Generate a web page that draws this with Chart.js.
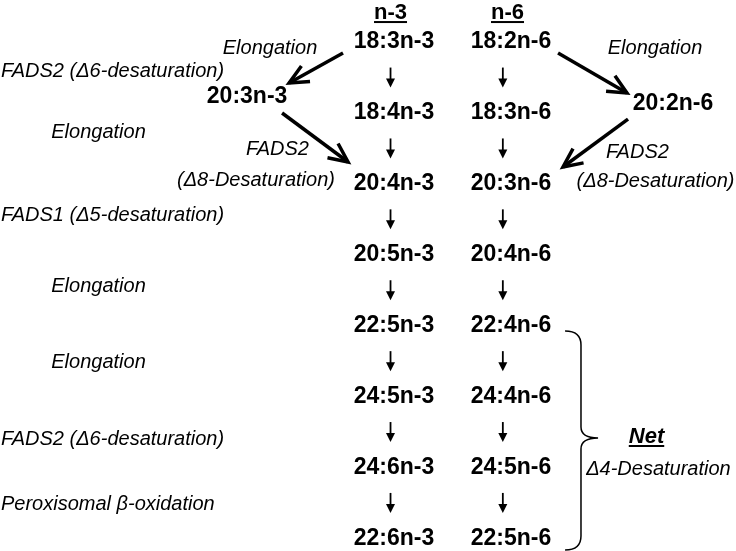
<!DOCTYPE html>
<html lang="en">
<head>
    <meta charset="UTF-8">
    <title>n-3 and n-6 PUFA pathway</title>
    <script src="https://cdn.jsdelivr.net/npm/chart.js"></script>
    <style>
        html, body { margin: 0; padding: 0; background: #ffffff; }
        #wrap { width: 736px; height: 551px; position: relative; }
    </style>
</head>
<body>
<div id="wrap"><canvas id="chart"></canvas></div>
<script>
    // series (column headers) and the fatty acids in each column, top to bottom
    const seriesNames = ['n-3', 'n-6'];
    const n3Acids = ['18:3n-3', '18:4n-3', '20:4n-3', '20:5n-3', '22:5n-3', '24:5n-3', '24:6n-3', '22:6n-3'];
    const n6Acids = ['18:2n-6', '18:3n-6', '20:3n-6', '20:4n-6', '22:4n-6', '24:4n-6', '24:5n-6', '22:5n-6'];

    // enzyme step between row i and row i+1
    const stepEnzymes = ['FADS2 (\u03946-desaturation)', 'Elongation', 'FADS1 (\u03945-desaturation)',
        'Elongation', 'Elongation', 'FADS2 (\u03946-desaturation)', 'Peroxisomal \u03b2-oxidation'];

    // alternative route (elongation then delta-8 desaturation)
    const altAcids = ['20:3n-3', '20:2n-6'];
    const altFirstStep = 'Elongation';
    const altSecondStep = ['FADS2', '(\u03948-Desaturation)'];
    const netLabel = ['Net', '\u03944-Desaturation'];

    // layout in grid units (x = column, y = row)
    const layout = {
        headerRow: -0.41,
        arrowDx: [-0.03, -0.07],
        altAt: [[-1.256, 0.77], [2.385, 0.873]],
        stepRows: [0.42, 1.275, 2.446, 3.44, 4.52, 5.61, 6.52],
        elongX: -2.526,
        altFirstAt: [[-1.06, 0.083], [2.231, 0.083]],
        altFadsAt: [[-0.996, 1.51], [2.08, 1.557]],
        altDeltaAt: [[-1.18, 1.945], [2.235, 1.966]],
        bigArrows: [
            [[-0.436, 0.154], [-0.897, 0.577]],
            [[-0.957, 1.0], [-0.393, 1.691]],
            [[1.402, 0.154], [1.991, 0.718]],
            [[2.0, 1.085], [1.444, 1.762]]
        ],
        brace: { x0: 1.462, x1: 1.598, x2: 1.744, top: 4.075, mid: 5.584, bottom: 7.164 },
        netAt: [2.158, 5.57],
        netSubAt: [2.26, 6.03]
    };

    const FONT = '"Liberation Sans", Arial, sans-serif';
    const boldFont = 'bold 23px ' + FONT;
    const headFont = 'bold 22px ' + FONT;
    const italFont = 'italic 20px ' + FONT;

    function drawText(ctx, str, x, y, font, align) {
        ctx.font = font;
        ctx.textAlign = align || 'center';
        ctx.textBaseline = 'middle';
        ctx.fillText(str, x, y);
        return ctx.measureText(str).width;
    }

    function drawBigArrow(ctx, x1, y1, x2, y2) {
        const a = Math.atan2(y2 - y1, x2 - x1);
        const len = 21, spread = 25 * Math.PI / 180;
        ctx.lineWidth = 3.5;
        ctx.lineCap = 'butt';
        ctx.lineJoin = 'miter';
        ctx.beginPath();
        ctx.moveTo(x1, y1);
        ctx.lineTo(x2, y2);
        ctx.stroke();
        ctx.beginPath();
        ctx.moveTo(x2 - len * Math.cos(a - spread), y2 - len * Math.sin(a - spread));
        ctx.lineTo(x2, y2);
        ctx.lineTo(x2 - len * Math.cos(a + spread), y2 - len * Math.sin(a + spread));
        ctx.stroke();
    }

    function drawDownArrow(ctx, x, yTop, yBot) {
        ctx.lineWidth = 1.8;
        ctx.lineCap = 'butt';
        ctx.beginPath();
        ctx.moveTo(x, yTop);
        ctx.lineTo(x, yBot - 6);
        ctx.stroke();
        ctx.beginPath();
        ctx.moveTo(x - 4.5, yBot - 9);
        ctx.lineTo(x + 4.5, yBot - 9);
        ctx.lineTo(x, yBot);
        ctx.closePath();
        ctx.fill();
    }

    const pathwayPlugin = {
        id: 'pathway',
        afterDatasetsDraw(chart) {
            const ctx = chart.ctx;
            const sx = chart.scales.x, sy = chart.scales.y;
            const X = v => sx.getPixelForValue(v);
            const Y = v => sy.getPixelForValue(v);
            ctx.save();
            ctx.fillStyle = '#000000';
            ctx.strokeStyle = '#000000';

            // column headers, underlined
            chart.data.datasets.forEach((ds, c) => {
                const pts = chart.getDatasetMeta(c).data;
                const hx = pts[0].x + sx.getPixelForValue(layout.arrowDx[0]) - sx.getPixelForValue(0);
                const hy = Y(layout.headerRow);
                const w = drawText(ctx, ds.label, hx, hy, headFont);
                ctx.fillRect(hx - w / 2, hy + 8, w, 2);
            });

            // fatty acid names and down arrows
            const columns = [n3Acids, n6Acids];
            columns.forEach((acids, c) => {
                const pts = chart.getDatasetMeta(c).data;
                acids.forEach((name, i) => {
                    drawText(ctx, name, pts[i].x, pts[i].y, boldFont);
                    if (i < acids.length - 1) {
                        const ax = X(c + layout.arrowDx[c]);
                        const ym = (pts[i].y + pts[i + 1].y) / 2;
                        drawDownArrow(ctx, ax, ym - 10, ym + 10);
                    }
                });
            });

            // enzyme steps on the left
            stepEnzymes.forEach((name, i) => {
                const y = Y(layout.stepRows[i]);
                if (name === 'Elongation') {
                    drawText(ctx, name, X(layout.elongX), y, italFont, 'center');
                } else {
                    drawText(ctx, name, chart.chartArea.left + 1, y, italFont, 'left');
                }
            });

            // alternative route
            altAcids.forEach((name, k) => {
                const p = layout.altAt[k];
                drawText(ctx, name, X(p[0]), Y(p[1]), boldFont);
                const f = layout.altFirstAt[k];
                drawText(ctx, altFirstStep, X(f[0]), Y(f[1]), italFont);
                const g = layout.altFadsAt[k];
                drawText(ctx, altSecondStep[0], X(g[0]), Y(g[1]), italFont);
                const d = layout.altDeltaAt[k];
                drawText(ctx, altSecondStep[1], X(d[0]), Y(d[1]), italFont);
            });
            layout.bigArrows.forEach(a => {
                drawBigArrow(ctx, X(a[0][0]), Y(a[0][1]), X(a[1][0]), Y(a[1][1]));
            });

            // brace for the net delta-4 desaturation
            const b = layout.brace;
            const bx0 = X(b.x0), bx1 = X(b.x1), bx2 = X(b.x2);
            const bt = Y(b.top), bm = Y(b.mid), bb = Y(b.bottom);
            ctx.lineWidth = 1.5;
            ctx.beginPath();
            ctx.moveTo(bx0, bt);
            ctx.quadraticCurveTo(bx1, bt, bx1, bt + 14);
            ctx.lineTo(bx1, bm - 11);
            ctx.quadraticCurveTo(bx1, bm, bx2, bm);
            ctx.quadraticCurveTo(bx1, bm, bx1, bm + 11);
            ctx.lineTo(bx1, bb - 14);
            ctx.quadraticCurveTo(bx1, bb, bx0, bb);
            ctx.stroke();

            const nx = X(layout.netAt[0]), ny = Y(layout.netAt[1]);
            const nw = drawText(ctx, netLabel[0], nx, ny, 'italic bold 22px ' + FONT);
            ctx.fillRect(nx - nw / 2, ny + 8, nw, 2);
            drawText(ctx, netLabel[1], X(layout.netSubAt[0]), Y(layout.netSubAt[1]), italFont);

            ctx.restore();
        }
    };

    new Chart(document.getElementById('chart').getContext('2d'), {
        type: 'scatter',
        data: {
            datasets: [
                { label: seriesNames[0], data: n3Acids.map((s, i) => ({ x: 0, y: i })), pointRadius: 0 },
                { label: seriesNames[1], data: n6Acids.map((s, i) => ({ x: 1, y: i })), pointRadius: 0 }
            ]
        },
        options: {
            responsive: true,
            maintainAspectRatio: false,
            animation: false,
            events: [],
            layout: { padding: 0 },
            plugins: { legend: { display: false }, tooltip: { enabled: false } },
            scales: {
                x: { type: 'linear', display: false, min: -3.368, max: 2.923 },
                y: { type: 'linear', display: false, min: -0.594, max: 7.178, reverse: true }
            }
        },
        plugins: [pathwayPlugin]
    });
</script>
</body>
</html>
